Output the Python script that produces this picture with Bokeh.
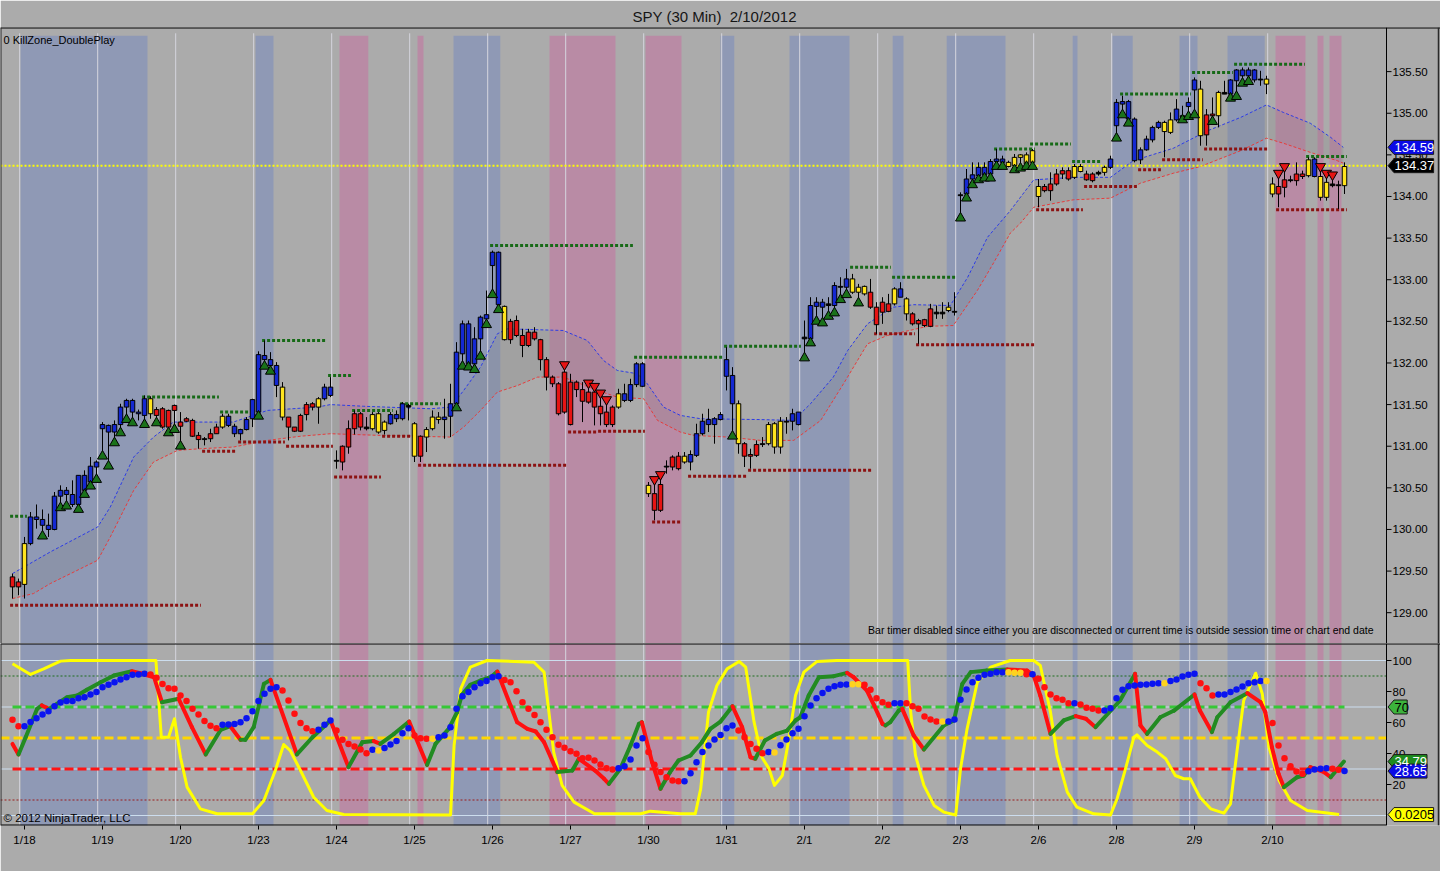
from bokeh.plotting import figure
from bokeh.models import Range1d, FixedTicker
from bokeh.layouts import column
from bokeh.embed import file_html
from bokeh.resources import INLINE
from bokeh.core.properties import value

# ---------------- data ----------------
title_text = "SPY (30 Min)  2/10/2012"
day_labels = ["1/18", "1/19", "1/20", "1/23", "1/24", "1/25", "1/26", "1/27", "1/30",
              "1/31", "2/1", "2/2", "2/3", "2/6", "2/8", "2/9", "2/10"]
day_first_bar = [2, 15, 28, 41, 54, 67, 80, 93, 106, 119, 132, 145, 158, 171, 184, 197, 210]
price_ticks = [129.0, 129.5, 130.0, 130.5, 131.0, 131.5, 132.0, 132.5, 133.0, 133.5,
               134.0, 134.5, 135.0, 135.5]
ind_ticks = [20, 40, 60, 80, 100]

highs = [129.47,129.41,129.91,130.21,130.30,130.24,130.19,130.45,130.53,130.51,
130.59,130.65,130.71,130.87,130.83,131.29,131.26,131.31,131.51,131.57,
131.57,131.44,131.61,131.60,131.47,131.47,131.44,131.50,131.41,131.35,
131.33,131.17,131.11,131.21,131.27,131.39,131.39,131.27,131.21,131.35,
131.57,132.14,132.27,132.13,132.01,131.77,131.35,131.23,131.39,131.53,
131.53,131.59,131.75,131.83,130.95,131.01,131.31,131.43,131.41,131.35,
131.41,131.41,131.31,131.41,131.43,131.53,131.51,131.29,131.13,131.23,
131.43,131.41,131.57,131.75,132.25,132.51,132.51,132.43,132.57,132.87,
133.35,133.34,132.69,132.53,132.57,132.41,132.41,132.43,132.29,132.07,
131.85,131.77,131.93,131.87,131.79,131.77,131.71,131.67,131.59,131.51,
131.49,131.69,131.75,131.81,132.01,132.01,130.57,130.55,130.61,130.83,
130.89,130.93,130.93,130.95,131.27,131.39,131.45,131.35,131.41,132.19,
131.95,131.55,131.05,130.97,131.07,131.11,131.29,131.29,131.35,131.35,
131.45,131.41,132.51,132.79,132.79,132.77,132.79,132.97,133.03,133.13,
133.07,132.95,132.93,133.01,132.73,132.79,132.83,132.91,132.97,132.79,
132.61,132.53,132.53,132.71,132.69,132.73,132.73,132.85,134.05,134.33,
134.41,134.41,134.41,134.45,134.57,134.49,134.43,134.51,134.51,134.53,
134.57,134.21,134.15,134.29,134.33,134.35,134.35,134.39,134.39,134.31,
134.29,134.31,134.37,134.49,135.17,135.21,135.16,134.95,134.59,134.73,
134.85,134.91,134.91,135.01,135.17,135.09,135.19,135.43,135.39,135.05,
135.19,135.27,135.39,135.41,135.53,135.55,135.55,135.53,135.51,135.45,
134.23,134.23,134.31,134.25,134.41,134.31,134.47,134.47,134.31,134.23,
134.21,134.19,134.41]

lows = [129.17,129.21,129.17,129.81,130.01,129.95,129.91,129.99,130.29,130.31,
130.27,130.27,130.45,130.55,130.63,130.91,130.79,131.07,131.19,131.35,
131.31,131.31,131.29,131.33,131.31,131.21,131.19,131.23,131.03,131.29,
131.11,130.97,131.01,131.05,131.15,131.21,131.23,131.11,131.07,131.19,
131.23,131.39,131.99,131.93,131.59,131.31,131.07,131.17,131.17,131.31,
131.43,131.27,131.55,131.59,130.73,130.71,130.91,131.14,131.19,131.19,
131.19,131.15,131.14,131.26,131.29,131.31,131.31,130.81,130.81,130.93,
131.19,131.27,131.09,131.11,131.49,131.99,131.98,131.95,132.11,132.49,
132.85,132.67,132.27,132.23,132.31,132.07,132.19,132.27,131.91,131.67,
131.71,131.37,131.39,131.25,131.59,131.29,131.51,131.25,131.25,131.23,
131.23,131.45,131.53,131.53,131.71,131.71,130.39,130.11,130.21,130.67,
130.71,130.71,130.79,130.71,130.87,131.13,131.17,131.03,131.31,131.67,
131.15,130.91,130.75,130.73,130.87,130.99,131.01,130.91,130.91,131.15,
131.19,131.25,132.09,132.27,132.53,132.51,132.59,132.63,132.79,132.85,
132.83,132.75,132.81,132.65,132.35,132.47,132.61,132.69,132.79,132.51,
132.45,132.23,132.43,132.43,132.53,132.53,132.61,132.57,133.77,134.01,
134.17,134.23,134.25,134.25,134.39,134.39,134.35,134.35,134.37,134.39,
134.39,133.87,134.05,133.95,134.13,134.21,134.19,134.21,134.29,134.19,
134.17,134.25,134.25,134.33,134.73,135.01,134.91,134.41,134.39,134.55,
134.65,134.81,134.47,134.75,134.90,134.95,134.99,135.01,134.61,134.61,
134.93,134.83,135.23,135.21,135.23,135.39,135.41,135.37,135.33,135.23,
133.99,133.87,133.99,134.17,134.13,134.21,134.23,134.23,133.95,133.95,
134.11,133.85,134.03]

opens = [129.43,129.37,129.34,129.83,130.12,130.05,130.00,130.00,130.40,130.42,
130.30,130.30,130.47,130.57,130.75,131.21,131.17,131.17,131.26,131.47,
131.41,131.39,131.37,131.39,131.44,131.45,131.43,131.49,131.29,131.33,
131.31,131.13,131.09,131.15,131.23,131.23,131.25,131.15,131.15,131.20,
131.33,131.41,132.04,131.97,131.73,131.35,131.35,131.23,131.37,131.50,
131.51,131.47,131.57,131.61,130.83,131.00,131.21,131.39,131.39,131.23,
131.21,131.17,131.19,131.27,131.33,131.33,131.49,130.88,131.12,131.11,
131.21,131.32,131.32,131.36,131.51,132.11,131.99,131.99,132.29,132.53,
133.17,132.70,132.28,132.50,132.51,132.33,132.37,132.37,132.28,132.04,
131.83,131.75,131.89,131.77,131.77,131.68,131.65,131.65,131.48,131.41,
131.47,131.47,131.55,131.55,131.74,131.72,130.43,130.43,130.54,130.76,
130.87,130.88,130.81,130.81,130.89,131.15,131.26,131.26,131.32,131.84,
131.51,131.03,131.03,130.90,131.02,131.03,131.03,130.99,130.99,131.30,
131.30,131.26,132.31,132.29,132.68,132.67,132.71,132.69,132.92,132.91,
132.85,132.85,132.83,132.85,132.67,132.73,132.71,132.71,132.79,132.59,
132.59,132.51,132.52,132.65,132.61,132.61,132.63,132.62,134.02,134.03,
134.21,134.25,134.26,134.27,134.42,134.41,134.36,134.37,134.47,134.39,
134.41,134.00,134.12,134.15,134.27,134.31,134.31,134.23,134.30,134.27,
134.27,134.29,134.29,134.35,134.85,135.11,134.93,134.43,134.44,134.56,
134.68,134.83,134.78,134.77,134.92,134.97,135.08,135.28,134.73,134.98,
134.99,134.97,135.25,135.23,135.39,135.45,135.45,135.40,135.41,135.35,
134.03,134.12,134.20,134.20,134.27,134.27,134.25,134.24,133.99,133.99,
134.15,134.14,134.13]

closes = [129.31,129.31,129.83,130.15,130.15,130.12,130.05,130.40,130.47,130.47,
130.42,130.65,130.65,130.76,130.81,131.26,131.25,131.26,131.47,131.55,
131.55,131.41,131.57,131.57,131.37,131.23,131.23,131.43,131.24,131.30,
131.12,131.08,131.08,131.09,131.15,131.36,131.36,131.24,131.20,131.32,
131.56,132.10,132.09,132.04,131.97,131.71,131.23,131.18,131.18,131.38,
131.47,131.57,131.71,131.71,130.82,130.81,130.99,131.21,131.23,131.21,
131.38,131.39,131.29,131.38,131.38,131.51,131.47,131.27,130.88,131.20,
131.35,131.35,131.35,131.51,132.13,132.47,132.47,132.29,132.55,132.58,
133.33,133.33,132.68,132.28,132.33,132.21,132.21,132.29,132.04,131.83,
131.75,131.39,131.41,131.26,131.68,131.54,131.53,131.47,131.39,131.26,
131.26,131.63,131.63,131.74,131.99,131.99,130.53,130.23,130.23,130.75,
130.75,130.73,130.88,130.90,131.15,131.30,131.32,131.33,131.38,132.04,
131.85,131.51,130.88,130.88,130.89,131.02,131.26,131.27,131.30,131.29,
131.39,131.41,132.29,132.69,132.73,132.73,132.69,132.93,132.91,133.01,
133.01,132.91,132.92,132.67,132.46,132.61,132.62,132.89,132.89,132.77,
132.47,132.47,132.45,132.44,132.59,132.59,132.67,132.61,134.01,134.21,
134.26,134.35,134.35,134.42,134.45,134.45,134.41,134.47,134.50,134.50,
134.55,134.12,134.07,134.07,134.15,134.27,134.21,134.36,134.36,134.20,
134.19,134.27,134.35,134.45,135.13,135.14,135.14,134.93,134.56,134.69,
134.83,134.89,134.89,134.92,135.05,134.96,135.13,135.40,135.29,134.74,
134.97,135.25,135.23,135.40,135.52,135.52,135.52,135.52,135.40,135.41,
134.15,134.03,134.11,134.19,134.19,134.24,134.44,134.45,134.24,134.17,
134.13,134.13,134.36]

candle_codes = ("rrybbbbbbb" "bbbbbbbbbb" "bbbyrrrrrr" "rrkrrybbbb" "bbbbbyrrrr"
                "rybbkrrrrk" "yyybbbkyry" "yybbbbbbbb" "bbyrrrrrrr" "rrrrrrrrrr"
                "rybbbbyrrk" "rrybbbbbbb" "byrrrkyyyk" "bbkbbbkbkb" "yyyrrrryby"
                "rrrrkkykkb" "bbbbbbyyyy" "yyrrrrryyr" "rkybbbbbbb" "bbyybkbbyr"
                "rykbbbbbky" "yrrkrrybyy" "kky")

last_price = 134.37
upper_band_price = 134.59

up_signal_bars = [5, 8, 9, 11, 12, 13, 14, 15, 16, 17, 18, 19, 20, 22, 24, 26, 27, 28,
                  41, 42, 43, 74, 75, 76, 77, 78, 79, 80, 81, 120, 132, 133, 134, 135,
                  136, 137, 138, 139, 141, 158, 159, 160, 161, 162, 163, 164, 165, 167,
                  168, 169, 170, 184, 185, 186, 195, 196, 197, 200, 203, 204, 205, 206]
down_signal_bars = [92, 96, 97, 98, 99, 107, 108, 211, 212, 218, 219, 220]

# resistance (green) and support (dark red) levels: first bar, last bar, price
res_start = [0, 22, 35, 42, 53, 57, 65, 80, 104, 119, 140, 147, 164, 170, 177, 185, 197, 204, 216]
res_end   = [2, 34, 39, 52, 56, 63, 71, 103, 118, 131, 146, 157, 170, 176, 181, 196, 203, 215, 222]
res_price = [130.16, 131.59, 131.41, 132.27, 131.85, 131.43, 131.51, 133.41, 132.07, 132.20,
             133.15, 133.03, 134.57, 134.63, 134.42, 135.23, 135.49, 135.59, 134.48]
sup_start = [0, 32, 38, 46, 54, 62, 68, 93, 98, 107, 113, 123, 144, 151, 171, 179, 188, 192, 199, 211]
sup_end   = [31, 37, 45, 53, 61, 67, 92, 97, 105, 111, 122, 143, 150, 170, 178, 187, 191, 198, 209, 222]
sup_price = [129.09, 130.94, 131.05, 131.00, 130.63, 131.12, 130.77, 131.17, 131.18, 130.09,
             130.64, 130.71, 132.35, 132.22, 133.84, 134.12, 134.32, 134.44, 134.57, 133.84]

# envelope lines (read at sample bars)
upper_x = [0,6.3,14.2,16.3,20.2,23.5,26.8,36.8,42.5,50.8,53,58.5,69.7,73,75.2,78,80.8,82.5,91.8,95.8,
           98.5,100.8,104.2,105.8,108.5,111.3,114.7,124.7,130.2,133,136.8,139.2,142.5,146.8,150.2,
           156.3,159.2,162.5,166.3,170.2,176.8,183,186.8,193.5,199.2,204.7,209,211.8,216.3,219.7,221.8]
upper_v = [129.47,129.73,130.03,130.27,130.87,131.11,131.29,131.29,131.43,131.47,131.50,131.48,131.45,
           131.47,131.67,131.95,132.35,132.41,132.39,132.27,132.03,131.91,131.87,131.75,131.47,131.37,
           131.33,131.32,131.31,131.51,131.83,132.15,132.47,132.67,132.70,132.69,133.03,133.51,133.83,
           134.20,134.23,134.23,134.43,134.58,134.79,134.95,135.10,135.01,134.88,134.71,134.59]
lower_x = [0,3.5,6.3,14.2,16.3,20.2,23.5,27.5,31.3,36.8,42.5,48,53,61.3,73,75.2,78,80.8,84.2,87.5,
           91.8,97.5,100.8,105.2,107.5,111.3,113.5,119.2,124.7,130.2,134.7,138.5,142.5,145.8,152.5,
           156.8,160.8,163.5,166.3,168,170.2,176.8,183,188,193.5,198,204.7,209,211.8,216.3,220.8,221.8]
lower_v = [129.17,129.23,129.35,129.63,129.91,130.47,130.81,130.95,130.97,130.99,131.07,131.12,131.15,
           131.13,131.11,131.23,131.43,131.65,131.73,131.83,131.83,131.67,131.59,131.57,131.31,131.17,
           131.13,131.11,131.07,131.07,131.31,131.75,132.23,132.33,132.44,132.45,132.87,133.20,133.56,
           133.68,133.87,133.96,133.98,134.16,134.28,134.36,134.55,134.70,134.64,134.53,134.43,134.40]

# background session shading (bar coordinates)
blue_left  = [1.33, 40.5, 73.5, 118.0, 129.5, 146.7, 155.7, 176.7, 183.3, 194.5, 202.5]
blue_right = [22.5, 43.5, 81.3, 120.3, 139.5, 148.5, 165.5, 177.5, 186.7, 197.5, 208.7]
pink_left  = [54.5, 67.5, 89.5, 105.5, 210.5, 217.5, 219.5]
pink_right = [59.3, 68.5, 100.5, 111.5, 215.5, 218.5, 221.5]

# lower panel: fast line (green rising / red falling)
fast_x = [0,1,2.2,4.1,4.9,6.1,7.4,9.1,10.8,12.4,14.7,16.9,19.9,21.3,23.6,24.9,27.7,29.9,32.2,34.7,
          36.3,38,38.8,40.2,41.9,43,47.4,50,53,56,58.3,60.2,61.3,63.6,66.1,69.1,70.5,72.7,74.1,74.9,
          76.3,78,79.7,80.8,83,84.1,85.8,87.2,88.6,90.8,93.3,94.4,97.1,98.6,99.4,101.3,103,104.4,104.9,
          106.6,108,109.6,111,113,114.9,116.3,118,120,121.6,123,123.8,125.4,127.4,129.1,130.5,131.3,
          132.7,134.4,136.9,139.1,140.2,142.4,143.6,145,145.5,146.3,147.7,148.3,150.2,151.9,155.2,
          156.9,158.3,159.7,162.4,165.8,169.1,170.2,171.3,173,175.2,177.2,178.9,180.5,184.6,187.1,188,
          189.1,191.3,193.6,197,197.9,199.9,200.8,203,205.8,208,208.8,209.9,211,211.9,214.1,215.2,
          216.3,218.6,219.7,221.9]
fast_v = [46.2,39.4,50.5,68.8,71.0,68.8,72.0,76.3,77.4,81.1,86.0,90.3,93.1,91.8,89.2,73.1,75.3,57.0,
          39.4,55.3,57.6,48.8,48.8,57.0,84.9,87.5,39.4,50.5,61.3,31.2,47.3,48.0,46.2,52.7,60.6,32.7,
          46.2,55.9,66.7,77.9,84.3,87.1,89.2,92.9,71.0,60.2,55.9,54.2,47.3,28.0,29.0,36.6,29.0,23.7,
          20.4,30.1,45.2,59.1,60.2,34.4,17.2,28.0,35.5,38.7,47.3,55.9,60.6,70.5,57.0,37.6,36.6,48.4,
          52.7,54.8,61.3,63.4,77.4,89.2,89.9,92.0,89.2,80.6,71.0,59.1,58.1,60.2,67.7,68.8,51.6,42.6,
          58.1,61.3,84.9,92.5,93.5,94.2,93.5,90.3,77.4,52.7,61.3,64.1,62.4,57.0,74.2,91.4,58.1,52.7,
          63.4,67.7,78.1,67.7,53.8,63.4,73.1,78.9,73.1,66.7,44.1,26.9,18.3,24.7,25.8,31.2,28.0,24.7,34.79]

# lower panel: slow (yellow) line
slow_x = [0,3,5.2,8,9.7,23.9,24.8,26,27,28,29.1,31.3,34.1,40,41.9,43.8,45.2,46.3,48,50.2,52.4,55.2,
          73,73.6,74.7,76.3,79.1,86.9,88.6,89.4,90.2,91.6,93.6,97,104.7,106.3,111.3,113.8,114.7,116,
          117.4,119.1,121.1,122.2,123.6,124.9,126.1,127,128.3,129.4,130.5,131.9,134.1,137.4,149.2,
          149.7,150.5,151.9,153.6,155.2,157.2,158,159.1,160.8,163,166.3,170.2,171.3,173,174.1,175.8,
          177.4,180.2,183,184.1,185.5,186.9,187.4,189.1,190.8,192.2,193.8,195.2,196.3,197.9,199.7,
          201.9,203,204.1,205.2,207.2,208.3,209.4,211.1,213,215.8,221.1]
slow_v = [97.9,91.0,94.6,99.6,100,100,50.5,50.5,62.4,37.6,18.3,4.3,1.1,1.1,9.7,29.0,45.8,41.9,29.0,
          11.8,3.2,0.6,0.3,45.2,81.7,95.7,100,98.9,92.5,66.7,40.9,19.4,8.6,1.1,1.1,2.8,1.1,1.1,17.2,
          66.7,83.9,94.6,99.4,95.7,60.2,37.6,30.1,19.4,25.8,49.5,77.4,92.5,99.4,100,100,66.7,38.7,
          19.4,6.5,2.2,0.3,30.1,55.9,86.0,95.7,100,100,96.8,66.7,38.7,15.1,5.4,1.1,0.3,10.8,30.1,
          50.5,52.0,45.2,40.9,36.6,25.8,23.7,23.7,11.8,4.3,1.5,7.5,41.9,74.2,91.8,78.5,44.1,22.6,
          9.7,3.2,0.6]

# lower panel: dotted line, one value per bar
dot_v = [61.7,57.6,57.6,60.4,62.8,65.2,67.3,70.5,72.9,73.8,
73.8,75.7,76.3,78.1,79.6,82.8,84.3,86.0,87.7,89.2,
90.8,91.0,91.4,91.0,88.8,84.9,82.1,81.7,77.4,73.8,
68.8,65.2,60.9,57.9,56.3,58.5,58.7,59.1,60.2,62.8,
67.3,73.8,78.5,81.7,82.8,80.6,74.2,65.6,59.6,56.3,
54.4,55.3,58.5,61.3,54.8,48.8,46.2,44.5,42.6,40.2,
42.4,41.9,43.5,45.8,48.0,53.1,56.3,51.6,49.9,49.5,
49.5,50.5,51.6,57.0,68.8,77.0,79.6,82.8,85.4,86.7,
89.2,89.9,87.5,86.0,80.2,73.1,68.8,64.9,60.2,55.3,
50.5,45.6,43.7,41.5,39.8,37.0,37.2,35.5,32.9,30.5,
29.7,30.5,31.8,36.1,45.2,49.9,40.9,32.7,28.0,24.7,
22.6,22.1,22.1,27.3,34.4,40.9,45.2,49.0,52.0,56.3,
58.1,54.8,50.5,46.2,43.0,40.2,40.9,40.6,45.4,49.0,
53.1,55.9,64.1,71.0,75.7,79.1,81.7,83.4,84.3,84.5,
84.7,84.7,84.3,81.1,75.7,73.1,71.4,72.5,72.5,72.5,
70.5,68.8,63.9,61.9,60.6,60.6,60.6,61.9,74.6,81.3,
86.0,88.8,90.8,91.4,92.5,92.5,92.5,92.1,92.1,91.2,
91.2,88.2,82.8,78.1,75.7,74.6,72.5,72.5,71.6,69.5,
68.8,67.7,67.7,69.2,75.7,81.1,83.4,83.9,84.3,84.5,
85.0,85.4,85.4,86.7,87.7,89.7,90.8,91.4,85.4,82.1,
77.4,78.1,78.1,79.6,81.3,83.2,85.4,86.0,86.7,86.7,
59.6,45.2,37.0,31.8,28.4,26.9,28.6,29.7,30.1,30.5,
30.1,29.5,28.65]
dot_codes = ("rrbbbbbbbb" "bbbbbbbbbb" "bbbrrrrrrr" "rrrrrbbbbb" "bbbbbrrrrr"
             "rbbbrrrrrr" "bybbbbbrrr" "ybbbbbbbbb" "bbrrrrrrrr" "rrrrrrrrrr"
             "rbbbbbrrrr" "rrbbbbbbbb" "brrrrrbybb" "bbbbbbbbbb" "yyrrrrrbbr"
             "rrrrrybbbb" "bbbbbbyyyr" "brrrrrrbrr" "rrbbbbbbbb" "bbybbbbbrr"
             "rbbbbbbbby" "rrrrrrbbbb" "rrb")

fast_last = 34.79
dot_last = 28.65
slow_flag_text = "0.0205"
slow_flag_level = 0.6

# ---------------- styling / layout ----------------
BG = "#ABABAB"
FONT = "Liberation Sans"
PXB = 6.0                       # pixels per bar
FW = 1440
X0 = -2.0
X1F = X0 + FW / PXB             # frame right edge (includes price-scale strip)
AX = 229.0                      # price scale line
P_LO, P_HI = 128.63, 136.03
FH1 = 616
FH2 = 182
I_LO, I_HI = -6.45, 110.97
BAND_TOP = 135.93
BLUE_BAND = "#8F99B5"
PINK_BAND = "#B98BA5"
BORDER = "#2A2A2A"

n = len(highs)
bars = list(range(n))
xr = Range1d(X0, X1F)
line_x = [t - 0.8 for t in day_first_bar]

candle_cmap = {"b": "#1428D2", "y": "#FFE41E", "r": "#E61414", "k": "#000000"}
dot_cmap = {"b": "#0A14F0", "y": "#FFD21E", "r": "#FF1010"}


def draw_scale(p, ticks, labels, lo, hi):
    p.segment(x0=[AX], y0=[lo], x1=[AX], y1=[hi], line_color="black", line_width=1)
    p.segment(x0=[AX] * len(ticks), y0=ticks, x1=[AX + 5 / PXB] * len(ticks), y1=ticks,
              line_color="black", line_width=1)
    p.text(x=[AX + 6 / PXB] * len(ticks), y=ticks, text=labels, text_font=value(FONT),
           text_font_size=value("11.5px"), text_color="black", text_align="left",
           text_baseline="middle")


def draw_flags(p, levels, texts, fills, fgs, px_per_unit):
    h = 14.0 / px_per_unit
    xs, ys = [], []
    for lvl, t in zip(levels, texts):
        tip = AX + 1.5 / PXB
        sh = tip + 6 / PXB
        right = tip + (6.6 * len(t) + 6) / PXB
        xs.append([tip, sh, right, right, sh])
        ys.append([lvl, lvl + h / 2, lvl + h / 2, lvl - h / 2, lvl - h / 2])
    p.patches(xs, ys, fill_color=fills, line_color="#1A1A1A", line_width=1)
    p.text(x=[AX + 8 / PXB] * len(levels), y=levels, text=texts, text_font=value(FONT),
           text_font_size=value("13px"), text_color=fgs, text_align="left",
           text_baseline="middle")


# ======== top price panel ========
p1 = figure(frame_width=FW, frame_height=FH1, x_range=xr, y_range=Range1d(P_LO, P_HI),
            x_axis_location=None, y_axis_location=None,
            output_backend="svg", toolbar_location=None,
            min_border_left=0, min_border_right=0, min_border_top=27, min_border_bottom=0,
            background_fill_color=BG, border_fill_color=BG, outline_line_color=None)
p1.grid.visible = False
p1.title.text = title_text.replace("  ", " \u00a0")
p1.title.align = "left"
p1.title.offset = 632
p1.title.standoff = 5
p1.title.text_font = FONT
p1.title.text_font_size = "15px"
p1.title.text_font_style = "normal"
p1.title.text_color = "#151515"

p1.quad(left=blue_left, right=blue_right, bottom=P_LO, top=BAND_TOP,
        fill_color=BLUE_BAND, line_color=None)
p1.quad(left=pink_left, right=pink_right, bottom=P_LO, top=BAND_TOP,
        fill_color=PINK_BAND, line_color=None)
p1.segment(x0=line_x, y0=P_LO, x1=line_x, y1=BAND_TOP + 0.03, line_color="#D6D6DE", line_width=1)

# envelope
p1.patch(upper_x + lower_x[::-1], upper_v + lower_v[::-1],
         fill_color="#7E7E7E", fill_alpha=0.2, line_color=None)
p1.line(upper_x, upper_v, line_color="#2D3CE6", line_width=1, line_dash="3 2")
p1.line(lower_x, lower_v, line_color="#E63C3C", line_width=1, line_dash="3 2")

# last price line
p1.segment(x0=[X0], y0=[last_price], x1=[AX], y1=[last_price],
           line_color="#FFFF00", line_width=2, line_dash="2 2")

# levels
p1.segment(x0=[s - 0.4 for s in res_start], y0=res_price,
           x1=[e + 0.4 for e in res_end], y1=res_price,
           line_color="#176A17", line_width=3, line_dash="3 2")
p1.segment(x0=[s - 0.4 for s in sup_start], y0=sup_price,
           x1=[e + 0.4 for e in sup_end], y1=sup_price,
           line_color="#8C1212", line_width=3, line_dash="3 2")

# candles
p1.segment(x0=bars, y0=highs, x1=bars, y1=lows, line_color="black", line_width=1)
body_top = [max(o, c) for o, c in zip(opens, closes)]
body_bot = [min(o, c) for o, c in zip(opens, closes)]
p1.vbar(x=bars, width=0.75, top=body_top, bottom=body_bot,
        fill_color=[candle_cmap[c] for c in candle_codes], line_color="black", line_width=1)

# signals
p1.scatter(x=up_signal_bars, y=[lows[i] - 0.03 for i in up_signal_bars], marker="triangle",
           size=10, fill_color="#1A721A", line_color="black", line_width=1)
p1.scatter(x=down_signal_bars, y=[highs[i] + 0.05 for i in down_signal_bars],
           marker="inverted_triangle", size=10, fill_color="#E61414", line_color="black", line_width=1)

# frame borders + price scale
p1.segment(x0=[X0], y0=[P_HI], x1=[X1F], y1=[P_HI], line_color="black", line_width=2)
p1.segment(x0=[X0], y0=[P_LO], x1=[X0], y1=[P_HI], line_color=BORDER, line_width=2)
p1.segment(x0=[X1F - 2 / PXB], y0=[P_LO], x1=[X1F - 2 / PXB], y1=[P_HI], line_color=BORDER, line_width=1.5)
draw_scale(p1, price_ticks, ["%.2f" % t for t in price_ticks], P_LO, P_HI)
draw_flags(p1, [upper_band_price, last_price],
           ["%.2f" % upper_band_price, "%.2f" % last_price],
           ["#0A0AE6", "#000000"], ["white", "white"], FH1 / (P_HI - P_LO))

p1.text(x=[X0 + 3 / PXB], y=[P_HI - 6.5 / (FH1 / (P_HI - P_LO))], text=["0 KillZone_DoublePlay"],
        text_font=value(FONT), text_font_size=value("11px"), text_color="black",
        text_align="left", text_baseline="top")
p1.text(x=[AX - 13 / PXB], y=[P_LO + 14 / (FH1 / (P_HI - P_LO))],
        text=["Bar timer disabled since either you are disconnected or current time is outside session time or chart end date"],
        text_font=value(FONT), text_font_size=value("10.5px"), text_color="black",
        text_align="right", text_baseline="middle")

# ======== lower indicator panel ========
p2 = figure(frame_width=FW, frame_height=FH2, x_range=xr, y_range=Range1d(I_LO, I_HI),
            x_axis_location="below", y_axis_location=None,
            output_backend="svg", toolbar_location=None,
            min_border_left=0, min_border_right=0, min_border_top=0, min_border_bottom=46,
            background_fill_color=BG, border_fill_color=BG, outline_line_color=None)
p2.grid.visible = False

p2.quad(left=blue_left, right=blue_right, bottom=I_LO, top=I_HI,
        fill_color=BLUE_BAND, line_color=None)
p2.quad(left=pink_left, right=pink_right, bottom=I_LO, top=I_HI,
        fill_color=PINK_BAND, line_color=None)
p2.segment(x0=line_x, y0=I_LO, x1=line_x, y1=I_HI, line_color="#D6D6DE", line_width=1)

for lvl in [100, 70, 30, 0]:
    p2.segment(x0=[X0], y0=[lvl], x1=[AX], y1=[lvl], line_color="#CCDDEE", line_width=1)
p2.segment(x0=[X0], y0=[90], x1=[AX], y1=[90], line_color="#1E6E1E", line_width=1, line_dash="2 2")
p2.segment(x0=[X0], y0=[10], x1=[AX], y1=[10], line_color="#9A1C1C", line_width=1, line_dash="2 2")
p2.segment(x0=[0], y0=[70], x1=[n - 1], y1=[70], line_color="#36C836", line_width=3, line_dash="9 4")
p2.segment(x0=[X0], y0=[50], x1=[AX], y1=[50], line_color="#FFD700", line_width=3, line_dash="9 4")
p2.segment(x0=[0], y0=[30], x1=[n - 1], y1=[30], line_color="#FF1414", line_width=3, line_dash="9 4")

p2.line(slow_x, slow_v, line_color="#FFFF00", line_width=3, line_join="round")
seg_col = ["#FF1010" if b < a else "#228B22" for a, b in zip(fast_v[:-1], fast_v[1:])]
p2.segment(x0=fast_x[:-1], y0=fast_v[:-1], x1=fast_x[1:], y1=fast_v[1:],
           line_color=seg_col, line_width=4, line_cap="round")
p2.scatter(x=bars, y=dot_v, size=6.5, fill_color=[dot_cmap[c] for c in dot_codes], line_color=None)

# borders + scale
p2.segment(x0=[X0], y0=[I_HI], x1=[X1F], y1=[I_HI], line_color="black", line_width=2)
p2.segment(x0=[X0], y0=[I_LO], x1=[AX], y1=[I_LO], line_color="black", line_width=2)
p2.segment(x0=[X0], y0=[I_LO], x1=[X0], y1=[I_HI], line_color=BORDER, line_width=2)
p2.segment(x0=[X1F - 2 / PXB], y0=[I_LO], x1=[X1F - 2 / PXB], y1=[I_HI], line_color=BORDER, line_width=1.5)
draw_scale(p2, ind_ticks, ["%d" % t for t in ind_ticks], I_LO, I_HI)
draw_flags(p2, [70, fast_last, dot_last, slow_flag_level],
           ["70", "%.2f" % fast_last, "%.2f" % dot_last, slow_flag_text],
           ["#3CB43C", "#1E8C1E", "#0A0AE6", "#FFFF00"], ["black", "white", "white", "black"],
           FH2 / (I_HI - I_LO))

p2.text(x=[X0 + 3 / PXB], y=[I_LO + 2 / (FH2 / (I_HI - I_LO))], text=["\u00a9 2012 NinjaTrader, LLC"],
        text_font=value(FONT), text_font_size=value("11.5px"), text_color="black",
        text_align="left", text_baseline="bottom")

axx = p2.xaxis[0]
axx.ticker = FixedTicker(ticks=day_first_bar)
axx.major_label_overrides = {t: l for t, l in zip(day_first_bar, day_labels)}
axx.major_tick_out = 4
axx.major_tick_in = 0
axx.minor_tick_out = 0
axx.minor_tick_in = 0
axx.axis_line_color = None
axx.major_tick_line_color = "black"
axx.major_label_text_font = FONT
axx.major_label_text_font_size = "11.5px"
axx.major_label_text_color = "black"
axx.major_label_standoff = 4

page = column(p1, p2, spacing=0)
open("out.html", "w").write(file_html(page, INLINE))
